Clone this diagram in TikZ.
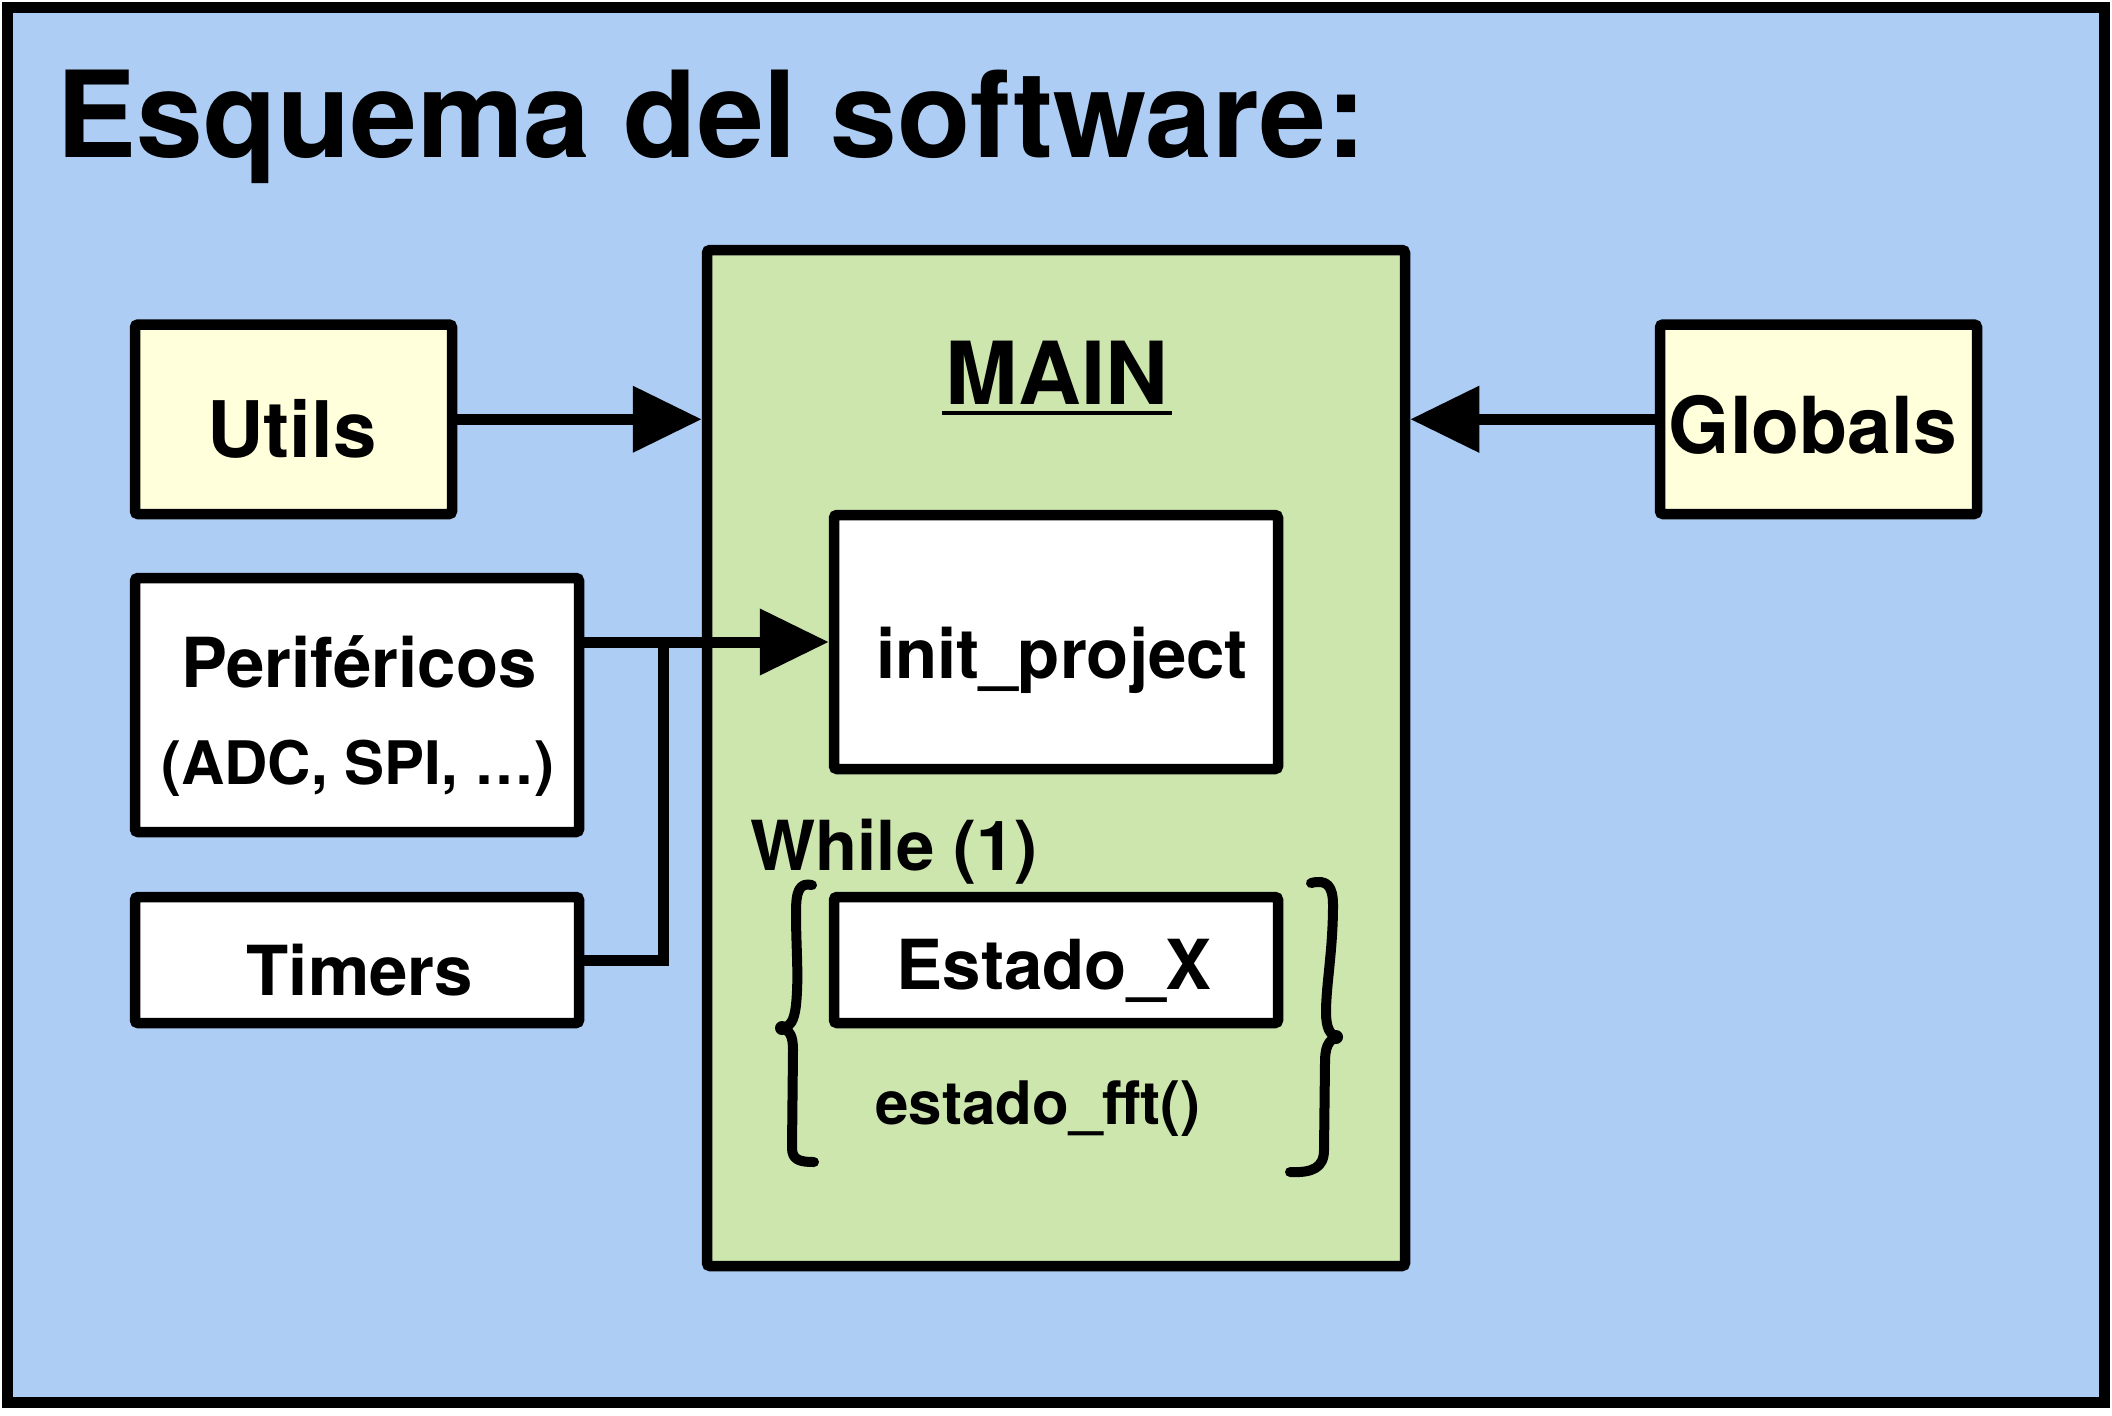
\documentclass[tikz,border=0pt]{standalone}
\usepackage{fontspec}
\setmainfont{TeX Gyre Heros}
\usetikzlibrary{arrows.meta,calc}
\definecolor{bgblue}{HTML}{ADCDF5}
\definecolor{maingreen}{HTML}{CCE6AE}
\definecolor{boxyellow}{HTML}{FFFFDC}
\tikzset{
  box/.style={draw=black, line width=5.25pt, rounded corners=1.5pt, inner sep=0pt, fill=white},
  lbl/.style={inner sep=0pt, anchor=base, font=\fontsize{34.5}{40}\selectfont\bfseries},
  conn/.style={line width=5.5pt},
  arr/.style={conn, -{Triangle[length=34.5pt,width=32pt]}},
  brace/.style={line width=5pt, line cap=round, line join=round},
}
\begin{document}
\begin{tikzpicture}[x=0.5pt,y=-0.5pt]
\useasboundingbox (0,0) rectangle (2112,1415);
\fill[white] (0,0) rectangle (2112,1415);
\draw[line width=5.5pt, fill=bgblue] (7.5,7.5) rectangle (2104.5,1402.5);

% boxes
\node[box, fill=maingreen, minimum width=349pt, minimum height=508pt] (main) at (1056,758) {};
\node[box, fill=boxyellow, minimum width=158.5pt, minimum height=94.75pt] (utils) at (293.5,419.25) {};
\node[box, fill=boxyellow, minimum width=158.5pt, minimum height=94.75pt] (globals) at (1818.5,419.25) {};
\node[box, minimum width=222pt, minimum height=127pt] (init) at (1056,642) {};
\node[box, minimum width=222pt, minimum height=127pt] (peri) at (357,705) {};
\node[box, minimum width=222pt, minimum height=63pt] (timers) at (357,960) {};
\node[box, minimum width=222pt, minimum height=63pt] (estado) at (1056,960) {};

% connectors
\coordinate (junc) at (663,642);
\draw[arr] (utils.east) -- (utils.east -| main.west);
\draw[arr] (globals.west) -- (globals.west -| main.east);
\draw[arr] (peri.east |- init.west) -- (init.west);
\draw[conn] (timers.east) -| (junc);

% texts
\node[lbl, anchor=base west, font=\fontsize{60}{70}\selectfont\bfseries] (title) at (56,157) {Esquema del software:};
\node[lbl, font=\fontsize{43.5}{50}\selectfont\bfseries] (mainlbl) at (1057,404) {MAIN};
\draw[line width=2.25pt] ($(mainlbl.base west)+(-3,9)$) -- ($(mainlbl.base east)+(3,9)$);
\node[lbl, font=\fontsize{39}{45}\selectfont\bfseries] (utilslbl) at (292,457) {Utils};
\node[lbl, font=\fontsize{39.3}{45}\selectfont\bfseries] (globalslbl) at (1813,453) {Globals};
\node[lbl] (perilbl) at (359,687) {Periféricos};
\node[lbl, font=\fontsize{30}{36}\selectfont\bfseries] (adclbl) at (358,784) {(ADC, SPI, …)};
\node[lbl] (initlbl) at (1062,678) {init\_project};
\node[lbl] (timerslbl) at (360,995) {Timers};
\node[lbl, anchor=base west] (whilelbl) at (750,870) {While (1)};
\node[lbl] (estadolbl) at (1054,989) {Estado\_X};
\node[lbl, font=\fontsize{30}{36}\selectfont\bfseries] (fftlbl) at (1038,1124) {estado\_fft()};

% braces
\draw[brace] (812,885) .. controls (799,882) and (796,892) .. (796,912)
  .. controls (796,950) and (799,975) .. (796,1005)
  .. controls (794,1022) and (790,1027) .. (781,1028)
  .. controls (790,1030) and (793,1036) .. (793,1050)
  -- (792,1148) .. controls (792,1160) and (800,1162) .. (814,1162);
\fill (782,1028) circle[radius=3.5pt];
\draw[brace] (1311,883) .. controls (1327,879) and (1333,886) .. (1333,905)
  .. controls (1333,950) and (1326,985) .. (1326,1012)
  .. controls (1326,1028) and (1330,1035) .. (1337,1037)
  .. controls (1328,1040) and (1325,1048) .. (1325,1062)
  -- (1324,1150) .. controls (1324,1168) and (1312,1173) .. (1290,1172);
\fill (1336,1037) circle[radius=3.5pt];
\end{tikzpicture}
\end{document}
